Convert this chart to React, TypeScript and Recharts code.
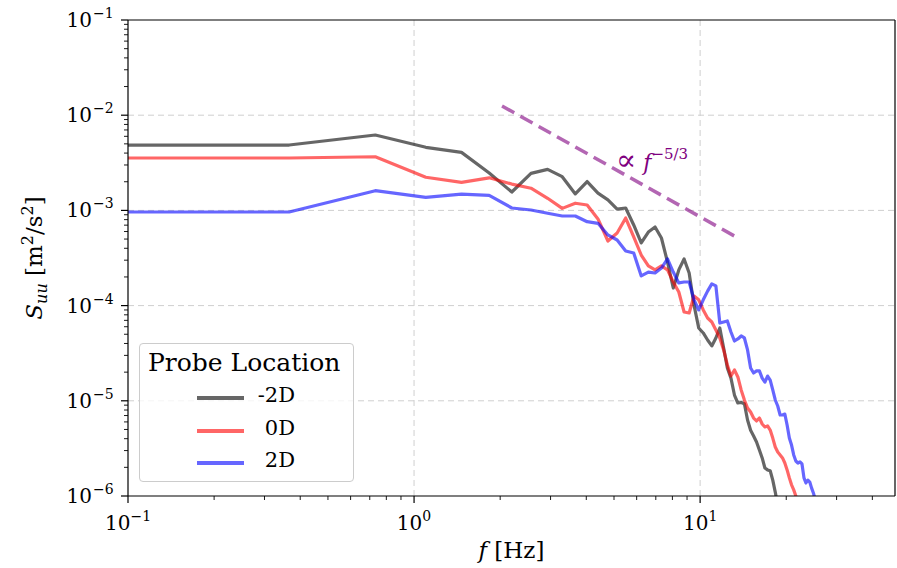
import React from 'react';
import { LineChart, Line, XAxis, YAxis, ReferenceLine, ReferenceDot, Label } from 'recharts';

// frequency bins [Hz] (first entry is the left edge of the plot)
const freqs = [
  0.1, 0.366, 0.732, 1.099, 1.465, 1.831, 2.197, 2.563, 2.93, 3.296, 3.662, 4.028, 4.394, 4.761, 5.127, 5.493,
  5.859, 6.225, 6.592, 6.958, 7.324, 7.69, 8.056, 8.423, 8.789, 9.155, 9.521, 9.887, 10.254, 10.62, 10.986,
  11.352, 11.718, 12.085, 12.451, 12.817, 13.183, 13.549, 13.915, 14.282, 14.648, 15.014, 15.38, 15.747, 16.113,
  16.479, 16.845, 17.211, 17.578, 17.944, 18.31, 18.676, 19.042, 19.409, 19.775, 20.141, 20.507, 20.873, 21.24,
  21.606, 21.972, 22.338, 22.704, 23.071, 23.437, 23.803, 24.169, 24.535, 24.902, 25.268, 25.634,
];

// S_uu [m^2/s^2] per probe location
const probeM2D = [
  4.86e-3, 4.86e-3, 6.19e-3, 4.6e-3, 4.07e-3, 2.47e-3, 1.56e-3, 2.45e-3, 2.7e-3, 2.26e-3, 1.49e-3, 2.01e-3,
  1.52e-3, 1.29e-3, 1.03e-3, 1.06e-3, 7.03e-4, 4.55e-4, 5.93e-4, 6.7e-4, 5.13e-4, 2.87e-4, 1.53e-4, 2.37e-4,
  3.09e-4, 2.2e-4, 1.01e-4, 5.82e-5, 5.16e-5, 4.35e-5, 3.77e-5, 4.57e-5, 5.82e-5, 3.59e-5, 2.21e-5, 1.73e-5,
  1.15e-5, 9.48e-6, 9.6e-6, 9.3e-6, 6.29e-6, 4.9e-6, 4.27e-6, 3.69e-6, 3.04e-6, 2.51e-6, 1.97e-6, 1.88e-6,
  1.84e-6, 1.47e-6, 1.1e-6, 7.9e-7, 7.0e-7,
];
const probe0D = [
  3.55e-3, 3.55e-3, 3.66e-3, 2.23e-3, 1.97e-3, 2.2e-3, 1.89e-3, 1.71e-3, 1.34e-3, 1.05e-3, 1.19e-3, 1.14e-3,
  8.13e-4, 4.77e-4, 5.79e-4, 8.32e-4, 5.26e-4, 3.4e-4, 2.61e-4, 2.37e-4, 2.61e-4, 2.37e-4, 1.77e-4, 1.39e-4,
  8.57e-5, 8.36e-5, 1.26e-4, 1.15e-4, 9.0e-5, 7.41e-5, 6.73e-5, 5.54e-5, 4.57e-5, 3.42e-5, 2.38e-5, 1.82e-5,
  2.11e-5, 1.78e-5, 1.3e-5, 1.02e-5, 8.4e-6, 7.62e-6, 6.59e-6, 6.14e-6, 6.59e-6, 5.71e-6, 5.31e-6, 5.44e-6,
  4.93e-6, 4.06e-6, 3.27e-6, 2.9e-6, 2.7e-6, 2.51e-6, 2.22e-6, 1.88e-6, 1.55e-6, 1.31e-6, 1.16e-6, 1.0e-6,
  8.0e-7, 7.0e-7,
];
const probe2D = [
  9.62e-4, 9.62e-4, 1.61e-3, 1.37e-3, 1.48e-3, 1.44e-3, 1.06e-3, 1.01e-3, 9.33e-4, 8.73e-4, 8.73e-4, 7.61e-4,
  7.32e-4, 5.52e-4, 4.89e-4, 3.75e-4, 3.57e-4, 2.05e-4, 2.25e-4, 2.2e-4, 2.48e-4, 3.09e-4, 2.25e-4, 1.73e-4,
  1.77e-4, 1.77e-4, 1.15e-4, 9.0e-5, 1.15e-4, 1.42e-4, 1.69e-4, 1.61e-4, 6.56e-5, 6.73e-5, 6.89e-5, 5.28e-5,
  4.25e-5, 4.46e-5, 4.8e-5, 4.57e-5, 3.42e-5, 2.21e-5, 1.96e-5, 2.06e-5, 2.06e-5, 1.73e-5, 1.57e-5, 1.82e-5,
  1.65e-5, 1.3e-5, 1.02e-5, 8.82e-6, 7.09e-6, 7.09e-6, 7.26e-6, 5.57e-6, 4.06e-6, 3.43e-6, 2.7e-6, 2.33e-6,
  2.22e-6, 2.28e-6, 2.17e-6, 1.55e-6, 1.37e-6, 1.47e-6, 1.4e-6, 1.21e-6, 1.07e-6, 9.1e-7, 7.1e-7,
];

// f^(-5/3) guide, end points
const slopeEnds = [
  { f: 2.03, s: 1.25e-2 },
  { f: 13.6, s: 5.1e-4 },
];

const series = [
  { key: 'm2D', label: '-2D', color: '#000000' },
  { key: 'p0D', label: '0D', color: '#ff0000' },
  { key: 'p2D', label: '2D', color: '#0000ff' },
];

const X_MIN = 0.1;
const X_MAX = 48;
const xMajor = [0.1, 1, 10];
const yMajor = [1e-6, 1e-5, 1e-4, 1e-3, 1e-2, 1e-1];
const minorMult = [2, 3, 4, 5, 6, 7, 8, 9];

const xTicks = [...xMajor, ...xMajor.flatMap((d) => minorMult.map((m) => m * d))]
  .filter((v) => v <= X_MAX)
  .sort((a, b) => a - b);
const yTicks = [...yMajor, ...yMajor.slice(0, -1).flatMap((d) => minorMult.map((m) => m * d))].sort((a, b) => a - b);

const data = freqs.map((f, i) => ({
  f,
  m2D: probeM2D[i] ?? null,
  p0D: probe0D[i] ?? null,
  p2D: probe2D[i] ?? null,
}));

const FONT = '"DejaVu Serif", serif';

const isMajor = (v: number) => {
  const e = Math.log10(v);
  return Math.abs(e - Math.round(e)) < 1e-6;
};
const expText = (v: number) => {
  const e = Math.round(Math.log10(v));
  return e < 0 ? `\u2212${Math.abs(e)}` : String(e);
};

function XTick({ x, y, payload }: any) {
  const v = payload.value;
  const major = isMajor(v);
  return (
    <g>
      <line x1={x} x2={x} y1={y} y2={y + (major ? 7 : 4)} stroke="#000" strokeWidth={major ? 1.2 : 0.9} />
      {major && (
        <text x={x} y={y + 34} textAnchor="middle" fontSize={20} fontFamily={FONT} fill="#000">
          10
          <tspan dy={-9} fontSize={14}>
            {expText(v)}
          </tspan>
        </text>
      )}
    </g>
  );
}

function YTick({ x, y, payload }: any) {
  const v = payload.value;
  const major = isMajor(v);
  return (
    <g>
      <line x1={x - (major ? 7 : 4)} x2={x} y1={y} y2={y} stroke="#000" strokeWidth={major ? 1.2 : 0.9} />
      {major && (
        <text x={x - 36} y={y + 7} textAnchor="end" fontSize={20} fontFamily={FONT} fill="#000">
          10
        </text>
      )}
      {major && (
        <text x={x - 35} y={y - 2} textAnchor="start" fontSize={14} fontFamily={FONT} fill="#000">
          {expText(v)}
        </text>
      )}
    </g>
  );
}

function YLabel({ viewBox }: any) {
  const cx = viewBox.x + 42;
  const cy = viewBox.y + viewBox.height / 2;
  return (
    <text
      x={cx}
      y={cy}
      transform={`rotate(-90, ${cx}, ${cy})`}
      textAnchor="middle"
      fontSize={23}
      fontFamily={FONT}
      fill="#000"
    >
      <tspan fontStyle="italic">S</tspan>
      <tspan fontStyle="italic" fontSize={16} dy={5}>
        uu
      </tspan>
      <tspan dy={-5}> [m</tspan>
      <tspan fontSize={16} dy={-9}>
        2
      </tspan>
      <tspan dy={9}>/s</tspan>
      <tspan fontSize={16} dy={-9}>
        2
      </tspan>
      <tspan dy={9}>]</tspan>
    </text>
  );
}

function XLabel({ viewBox }: any) {
  const cx = viewBox.x + viewBox.width / 2;
  const cy = viewBox.y + 62;
  return (
    <text x={cx} y={cy} textAnchor="middle" fontSize={23} fontFamily={FONT} fill="#000">
      <tspan fontStyle="italic">f</tspan>
      <tspan> [Hz]</tspan>
    </text>
  );
}

function SlopeText({ cx, cy }: any) {
  return (
    <text x={cx} y={cy} fontSize={22} fontFamily={FONT} fill="#800080">
      <tspan fontSize={30}>{'\u221d'}</tspan>
      <tspan fontStyle="italic"> f</tspan>
      <tspan dy={-11} fontSize={15}>
        {'\u22125/3'}
      </tspan>
    </text>
  );
}

function ProbeLegend() {
  return (
    <div
      style={{
        position: 'absolute',
        left: 139,
        top: 343,
        width: 215,
        height: 139,
        border: '1px solid #cccccc',
        borderRadius: 4,
        background: 'rgba(255,255,255,0.8)',
        fontFamily: FONT,
        boxSizing: 'border-box',
      }}
    >
      <div style={{ position: 'absolute', left: 8, top: 4, fontSize: 25, whiteSpace: 'nowrap' }}>Probe Location</div>
      {series.map((s, i) => (
        <div key={s.key} style={{ position: 'absolute', top: 52 + i * 32.5, left: 0, width: '100%', height: 8 }}>
          <div
            style={{
              position: 'absolute',
              left: 57,
              top: 0,
              width: 47,
              height: 4,
              background: s.color,
              opacity: 0.6,
            }}
          />
          <div
            style={{
              position: 'absolute',
              right: 58,
              top: -14,
              fontSize: 21,
              lineHeight: '26px',
              whiteSpace: 'nowrap',
            }}
          >
            {s.label}
          </div>
        </div>
      ))}
    </div>
  );
}

export default function App() {
  return (
    <div style={{ position: 'absolute', left: 0, top: 0, width: 897, height: 568, background: '#fff' }}>
      <LineChart width={897} height={568} data={data} margin={{ top: 20, right: 2, bottom: 0, left: 0 }}>
        <XAxis
          dataKey="f"
          type="number"
          scale="log"
          domain={[X_MIN, X_MAX]}
          allowDataOverflow
          ticks={xTicks}
          interval={0}
          tick={<XTick />}
          tickLine={false}
          tickSize={0}
          tickMargin={0}
          height={72}
          axisLine={{ stroke: '#000', strokeWidth: 1.2 }}
        >
          <Label content={<XLabel />} />
        </XAxis>
        <YAxis
          type="number"
          scale="log"
          domain={[1e-6, 1e-1]}
          allowDataOverflow
          ticks={yTicks}
          interval={0}
          tick={<YTick />}
          tickLine={false}
          tickSize={0}
          tickMargin={0}
          width={128}
          axisLine={{ stroke: '#000', strokeWidth: 1.2 }}
        >
          <Label content={<YLabel />} />
        </YAxis>

        {[1e-5, 1e-4, 1e-3, 1e-2].map((v) => (
          <ReferenceLine key={`gy${v}`} y={v} stroke="#cfcfcf" strokeDasharray="6 4" strokeWidth={1} />
        ))}
        {[1, 10].map((v) => (
          <ReferenceLine key={`gx${v}`} x={v} stroke="#cfcfcf" strokeDasharray="6 4" strokeWidth={1} />
        ))}
        <ReferenceLine y={1e-1} stroke="#000" strokeWidth={1.2} />
        <ReferenceLine x={X_MAX} stroke="#000" strokeWidth={1.2} />

        {series.map((s) => (
          <Line
            key={s.key}
            dataKey={s.key}
            type="linear"
            stroke={s.color}
            strokeOpacity={0.6}
            strokeWidth={3.2}
            strokeLinejoin="round"
            dot={false}
            activeDot={false}
            isAnimationActive={false}
          />
        ))}

        <ReferenceLine
          segment={[
            { x: slopeEnds[0].f, y: slopeEnds[0].s },
            { x: slopeEnds[1].f, y: slopeEnds[1].s },
          ]}
          stroke="#800080"
          strokeOpacity={0.6}
          strokeWidth={3.5}
          strokeDasharray="14 7"
        />
        <ReferenceDot x={5.08} y={2.65e-3} r={0} shape={<SlopeText />} />
      </LineChart>
      <ProbeLegend />
    </div>
  );
}
